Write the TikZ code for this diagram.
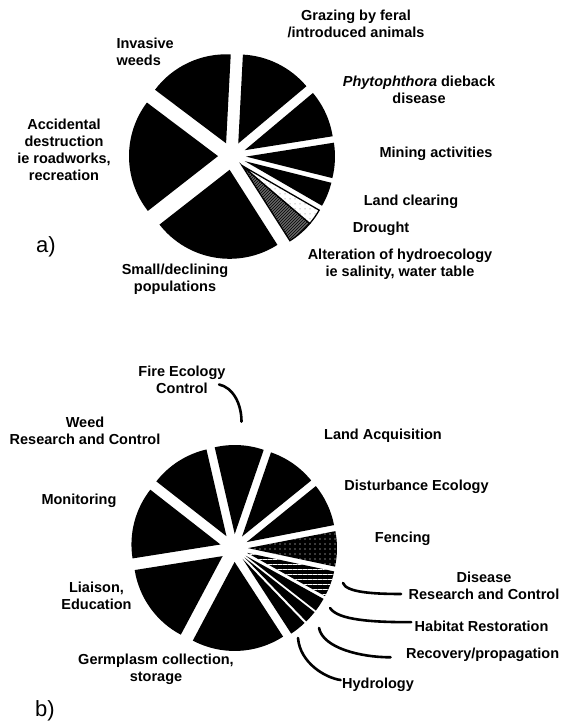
\documentclass[tikz,border=0pt]{standalone}
\usepackage{fontspec}
\setmainfont{Liberation Sans}
\usetikzlibrary{calc, patterns, patterns.meta}

\begin{document}
\begin{tikzpicture}[x=1pt, y=1pt,
	lbl/.style={align=center, font=\bfseries\fontsize{14.5}{17}\selectfont},
	part/.style={font=\fontsize{22}{24}\selectfont},
	blk/.style={fill=black},
	dotslice/.style={preaction={fill=white}, pattern={Dots[distance=5pt,radius=0.5pt]}, pattern color=black!60, draw=black, line width=1.3pt},
	hatchslice/.style={preaction={fill=black!60}, pattern=north east lines, draw=black, line width=1.3pt},
	speckslice/.style={preaction={fill=black}, pattern={Dots[distance=5pt,radius=0.55pt]}, pattern color=white},
	gridslice/.style={preaction={fill=black}, pattern={Lines[angle=0,distance=5pt,line width=0.4pt]}, pattern color=white},
	leader/.style={line width=2.6pt, line cap=round}]

	\useasboundingbox (0,0) rectangle (569,724);

	% pie centres
	\coordinate (pa) at (232,568);
	\coordinate (pb) at (234,176);

	% a) threats
	\foreach \a/\b/\m/\s in {87/143/115/blk, 143/218/180.5/blk, 218/302.5/260.25/blk,
		-57.5/-40.5/-43.75/hatchslice, -40.5/-30/-43.75/dotslice, -30/-14/-22/blk,
		-14/9/-2.5/blk, 9/40/24.5/blk, 40/87/63.5/blk}
		\path[\s] ($(pa)+(\m:14)$) -- ++(\a:89) arc[start angle=\a, end angle=\b, radius=89] -- cycle;

	\node[lbl] (graz) at (356,700.5) {Grazing by feral\\/introduced animals};
	\node[lbl, align=left, anchor=west] (inv) at (113,672) {Invasive\\weeds};
	\node[lbl] (phy) at (419,634) {\textit{Phytophthora} dieback\\disease};
	\node[lbl] (acc) at (64,574) {Accidental\\destruction\\ie roadworks,\\recreation};
	\node[lbl] (mine) at (436,570) {Mining activities};
	\node[lbl] (clear) at (411,522) {Land clearing};
	\node[lbl] (drought) at (381,495) {Drought};
	\node[lbl] (hydro) at (400,460) {Alteration of hydroecology\\ie salinity, water table};
	\node[lbl] (small) at (175,445) {Small/declining\\populations};
	\node[part] (pta) at (46,477) {a)};

	% b) actions
	\foreach \a/\b/\m/\s in {71/103/87/blk, 103/142/122.5/blk, 142/189/165.5/blk,
		189/242/215.5/blk, 242/303/272.5/blk, -57/-46/-51.5/blk, -46/-38/-42/blk,
		-38/-29/-33.5/blk, -29/-12/-20.5/gridslice, -12/11/-0.5/speckslice,
		11/39/25/blk, 39/71/55/blk}
		\path[\s] ($(pb)+(\m:14)$) -- ++(\a:89) arc[start angle=\a, end angle=\b, radius=89] -- cycle;

	\node[lbl] (fire) at (182,344.5) {Fire Ecology\\Control};
	\node[lbl] (weed) at (85,293.5) {Weed\\Research and Control};
	\node[lbl] (land) at (383,288.3) {Land Acquisition};
	\node[lbl] (dist) at (416.5,237.3) {Disturbance Ecology};
	\node[lbl] (mon) at (79,223) {Monitoring};
	\node[lbl] (fence) at (402.7,185.7) {Fencing};
	\node[lbl] (dis) at (484,138.5) {Disease\\Research and Control};
	\node[lbl] (hab) at (481.6,97.3) {Habitat Restoration};
	\node[lbl] (rec) at (482.6,69.7) {Recovery/propagation};
	\node[lbl] (hyd) at (378,39) {Hydrology};
	\node[lbl] (lia) at (96.5,128.3) {Liaison,\\Education};
	\node[lbl] (germ) at (156,54.6) {Germplasm collection,\\storage};
	\node[part] (ptb) at (45,13) {b)};

	% leaders
	\coordinate (firetip) at (241.5,302.3);
	\coordinate (distip) at (343,141);
	\coordinate (habtip) at (330,116);
	\coordinate (rectip) at (319,96);
	\coordinate (hydtip) at (298,86);

	\draw[leader] ([xshift=-10pt,yshift=-5pt]fire.east) .. controls +(14,-3) and +(0,18) .. (firetip);
	\draw[leader] (distip) .. controls +(3,-9) and +(-30,0) .. ([xshift=-4pt,yshift=-8.5pt]dis.west);
	\draw[leader] (habtip) .. controls +(8,-12) and +(-40,0) .. ([yshift=4.5pt]hab.west);
	\draw[leader] (rectip) .. controls +(4,-20) and +(-30,0) .. ([xshift=-12pt,yshift=-3pt]rec.west);
	\draw[leader] (hydtip) .. controls +(2,-25) and +(-15,2) .. ([xshift=2pt,yshift=5pt]hyd.west);
\end{tikzpicture}
\end{document}
